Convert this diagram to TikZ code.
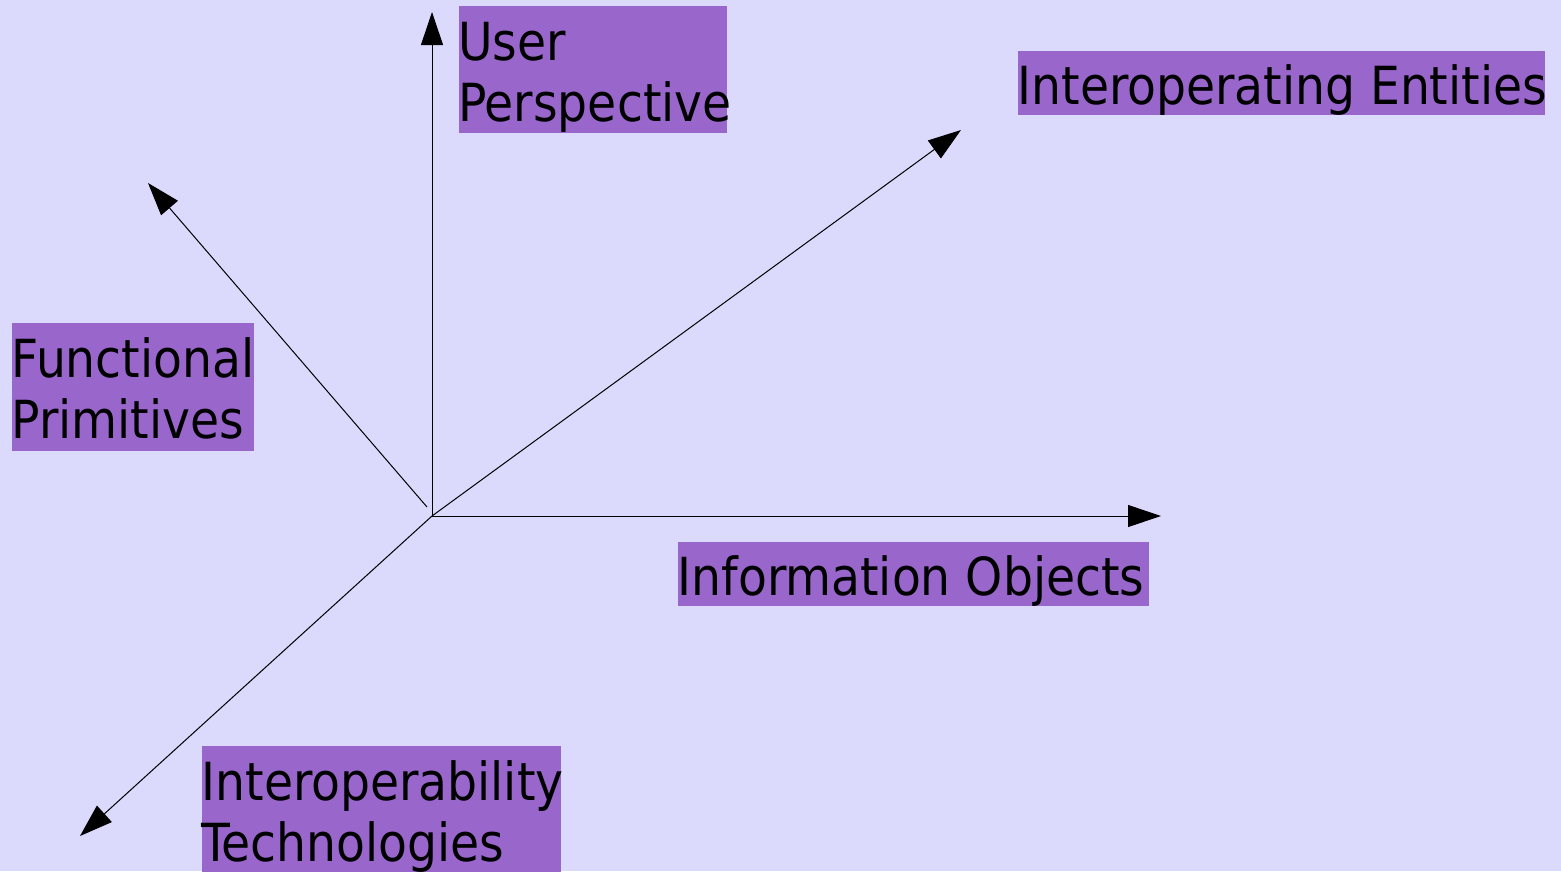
\documentclass[tikz,border=0pt]{standalone}
\usepackage{fontspec}
\setmainfont{DejaVu Sans Condensed}
\usetikzlibrary{arrows.meta}
\definecolor{bgcol}{RGB}{220,218,252}
\definecolor{boxcol}{RGB}{153,102,204}
\begin{document}
\begin{tikzpicture}[x=1pt,y=-1pt,
  axis/.style={draw=black,line width=1pt,-{Triangle[length=33pt,width=22pt]}},
  labelbox/.style={fill=boxcol,draw=none,inner sep=0pt,anchor=north west},
  labeltext/.style={inner sep=0pt,anchor=base west,align=left,text=black,
    font=\fontsize{52.5}{61}\selectfont}]
\fill[bgcol] (0,0) rectangle (1561,871);
\useasboundingbox (0,0) rectangle (1561,871);
% label boxes
\node[labelbox,minimum width=268pt,minimum height=127pt] (upB) at (459,6) {};
\node[labeltext] (up) at (458,121) {User\\Perspective};
\node[labelbox,minimum width=527pt,minimum height=64pt] (ieB) at (1018,51) {};
\node[labeltext] (ie) at (1017.5,104) {Interoperating Entities};
\node[labelbox,minimum width=242pt,minimum height=128pt] (fpB) at (12,323) {};
\node[labeltext] (fp) at (11.5,438) {Functional\\Primitives};
\node[labelbox,minimum width=471pt,minimum height=64pt] (ioB) at (678,542) {};
\node[labeltext] (io) at (677.5,595) {Information Objects};
\node[labelbox,minimum width=359pt,minimum height=130pt] (itB) at (202,746) {};
\node[labeltext] (it) at (201.5,861) {Interoperability\\Technologies};
% axes
\coordinate (O) at (432,516);
\coordinate (Oul) at (427,507);
\coordinate (tUp) at (432,12);
\coordinate (tRight) at (1161,516);
\coordinate (tUR) at (961,130);
\coordinate (tUL) at (148,183);
\coordinate (tLL) at (80,836);
\draw[axis] (O) -- (tUp);
\draw[axis] (O) -- (tRight);
\draw[axis] (O) -- (tUR);
\draw[axis] (Oul) -- (tUL);
\draw[axis] (O) -- (tLL);
\end{tikzpicture}
\end{document}
